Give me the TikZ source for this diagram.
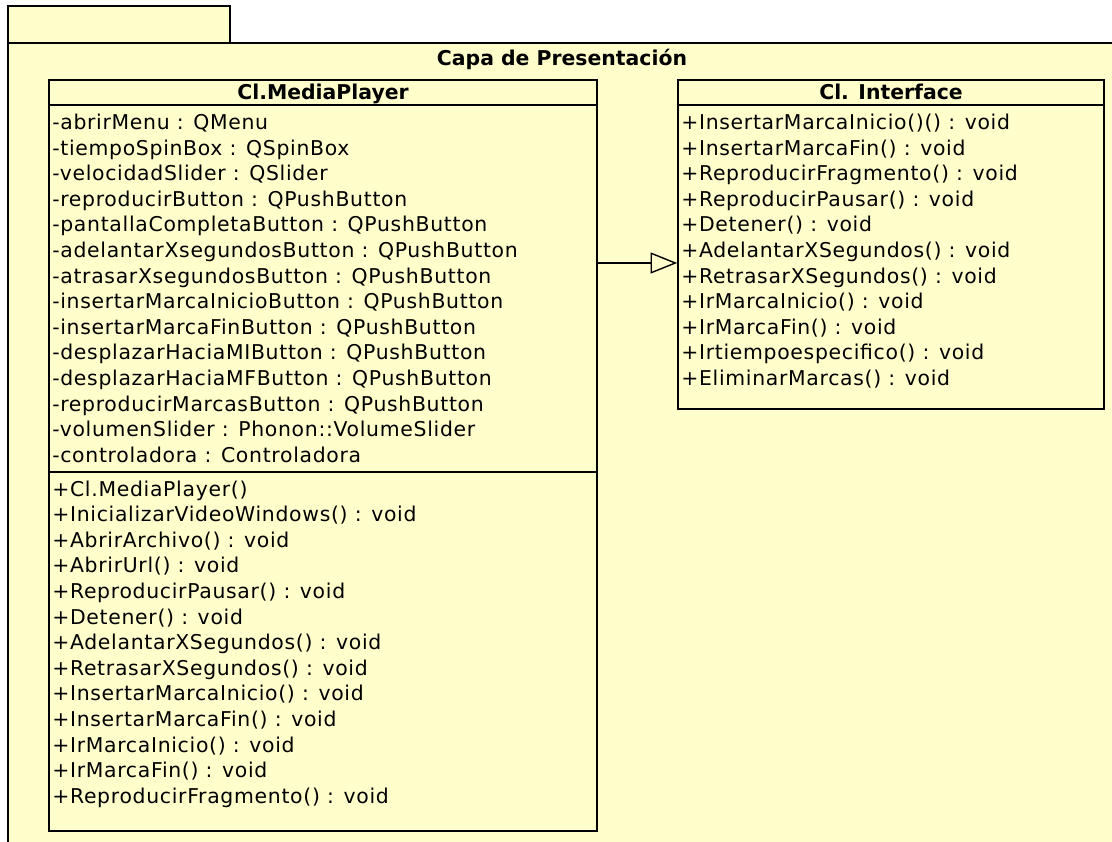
\documentclass[tikz,border=0pt]{standalone}
\usepackage{fontspec}
\setmainfont{DejaVu Sans}
\newfontfamily\umlfont[LetterSpace=3.4]{DejaVu Sans}
\usetikzlibrary{arrows.meta,fit,positioning}
\definecolor{umlyellow}{RGB}{255,255,204}

\tikzset{
  umlline/.style={draw=black, line width=1.1pt},
  classbox/.style={draw=black, fill=umlyellow, line width=1.1pt, inner sep=0pt},
  member/.style={anchor=west, inner sep=0pt, text height=10pt, text depth=0pt, font=\umlfont\fontsize{14.5}{17}\selectfont},
  classname/.style={inner sep=0pt, text height=10pt, text depth=0pt, font=\bfseries\fontsize{14.5}{17}\selectfont},
  realizes/.style={-{Triangle[open, length=19pt, width=15pt]}, line width=1pt}
}

\begin{document}
\begin{tikzpicture}[x=0.025cm, y=-0.025cm]
\useasboundingbox (0,0) rectangle (1112,842);

%Package Capa de Presentacion
\filldraw[fill=umlyellow, umlline] (8,6) rectangle (230,43);
\fill[umlyellow] (8,43) rectangle (1120,850);
\draw[umlline] (8,850) -- (8,43) -- (1120,43);
\node[classname] (pkgname) at (562,58) {Capa de Presentación};

%Class Cl.MediaPlayer
\node[classbox, fit={(49,80) (597,831)}] (mp) {};
\draw[umlline] (49,105) -- (597,105);
\draw[umlline] (49,472) -- (597,472);
\node[classname] (mpname) at (323,92) {Cl.MediaPlayer};

%Attributes of Cl.MediaPlayer
\node[member] (mpattr1) at (52,122.5) {-abrirMenu : QMenu};
\node[member] (mpattr2) at (52,148.1) {-tiempoSpinBox : QSpinBox};
\node[member] (mpattr3) at (52,173.7) {-velocidadSlider : QSlider};
\node[member] (mpattr4) at (52,199.3) {-reproducirButton : QPushButton};
\node[member] (mpattr5) at (52,224.9) {-pantallaCompletaButton : QPushButton};
\node[member] (mpattr6) at (52,250.5) {-adelantarXsegundosButton : QPushButton};
\node[member] (mpattr7) at (52,276.1) {-atrasarXsegundosButton : QPushButton};
\node[member] (mpattr8) at (52,301.7) {-insertarMarcaInicioButton : QPushButton};
\node[member] (mpattr9) at (52,327.3) {-insertarMarcaFinButton : QPushButton};
\node[member] (mpattr10) at (52,352.9) {-desplazarHaciaMIButton : QPushButton};
\node[member] (mpattr11) at (52,378.5) {-desplazarHaciaMFButton : QPushButton};
\node[member] (mpattr12) at (52,404.1) {-reproducirMarcasButton : QPushButton};
\node[member] (mpattr13) at (52,429.7) {-volumenSlider : Phonon::VolumeSlider};
\node[member] (mpattr14) at (52,455.3) {-controladora : Controladora};

%Operations of Cl.MediaPlayer
\node[member] (mpop1) at (52,489.0) {+Cl.MediaPlayer()};
\node[member] (mpop2) at (52,514.6) {+InicializarVideoWindows() : void};
\node[member] (mpop3) at (52,540.2) {+AbrirArchivo() : void};
\node[member] (mpop4) at (52,565.8) {+AbrirUrl() : void};
\node[member] (mpop5) at (52,591.4) {+ReproducirPausar() : void};
\node[member] (mpop6) at (52,617.0) {+Detener() : void};
\node[member] (mpop7) at (52,642.6) {+AdelantarXSegundos() : void};
\node[member] (mpop8) at (52,668.2) {+RetrasarXSegundos() : void};
\node[member] (mpop9) at (52,693.8) {+InsertarMarcaInicio() : void};
\node[member] (mpop10) at (52,719.4) {+InsertarMarcaFin() : void};
\node[member] (mpop11) at (52,745.0) {+IrMarcaInicio() : void};
\node[member] (mpop12) at (52,770.6) {+IrMarcaFin() : void};
\node[member] (mpop13) at (52,796.2) {+ReproducirFragmento() : void};

%Class Cl. Interface
\node[classbox, fit={(678,80) (1104,409)}] (ifc) {};
\draw[umlline] (678,105) -- (1104,105);
\node[classname] (ifcname) at (891,92) {Cl. Interface};

%Operations of Cl. Interface
\node[member] (ifcop1) at (681,122.5) {+InsertarMarcaInicio()() : void};
\node[member] (ifcop2) at (681,148.1) {+InsertarMarcaFin() : void};
\node[member] (ifcop3) at (681,173.7) {+ReproducirFragmento() : void};
\node[member] (ifcop4) at (681,199.3) {+ReproducirPausar() : void};
\node[member] (ifcop5) at (681,224.9) {+Detener() : void};
\node[member] (ifcop6) at (681,250.5) {+AdelantarXSegundos() : void};
\node[member] (ifcop7) at (681,276.1) {+RetrasarXSegundos() : void};
\node[member] (ifcop8) at (681,301.7) {+IrMarcaInicio() : void};
\node[member] (ifcop9) at (681,327.3) {+IrMarcaFin() : void};
\node[member] (ifcop10) at (681,352.9) {+Irtiempoespecifico() : void};
\node[member] (ifcop11) at (681,378.5) {+EliminarMarcas() : void};

%Realization
\coordinate (realize) at (640,263);
\draw[realizes] (mp.east |- realize) -- (ifc.west |- realize);
\end{tikzpicture}
\end{document}
